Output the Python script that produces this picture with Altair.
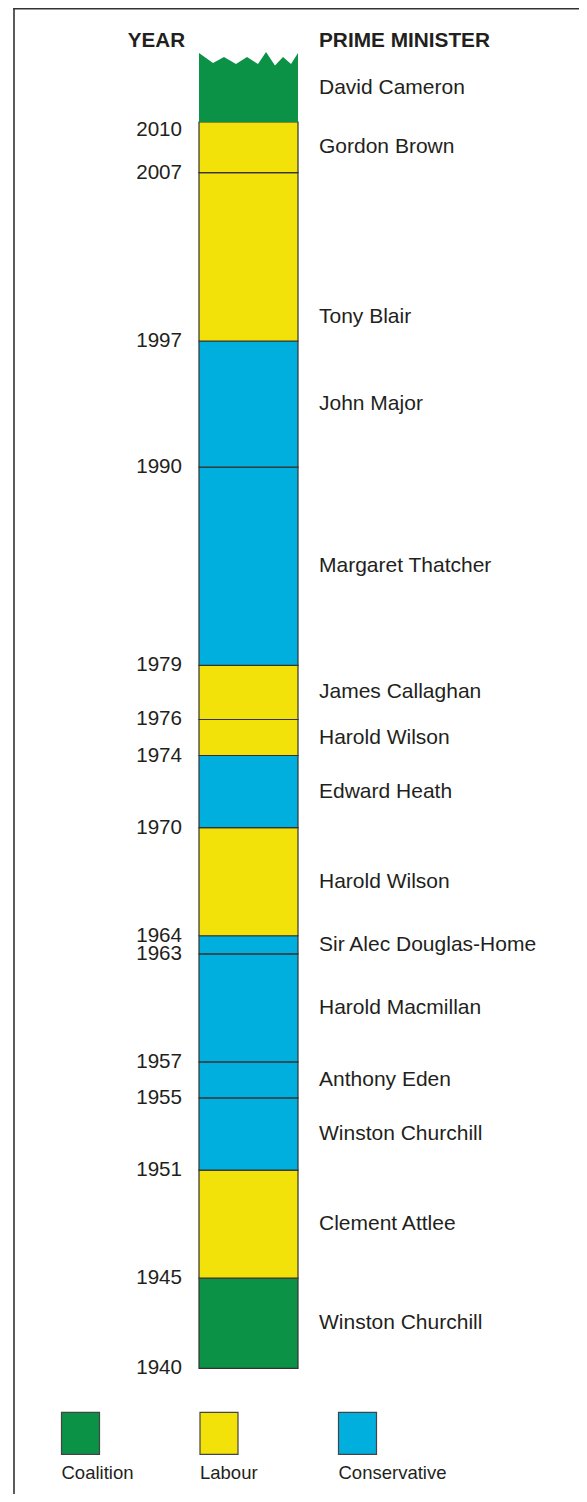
import altair as alt
import pandas as pd

# ---- data ----
prime_ministers = ["Winston Churchill", "Clement Attlee", "Winston Churchill", "Anthony Eden",
                   "Harold Macmillan", "Sir Alec Douglas-Home", "Harold Wilson", "Edward Heath",
                   "Harold Wilson", "James Callaghan", "Margaret Thatcher", "John Major",
                   "Tony Blair", "Gordon Brown", "David Cameron"]
start_years = [1940, 1945, 1951, 1955, 1957, 1963, 1964, 1970, 1974, 1976, 1979, 1990, 1997, 2007, 2010]
end_years = [1945, 1951, 1955, 1957, 1963, 1964, 1970, 1974, 1976, 1979, 1990, 1997, 2007, 2010, 2013]
parties = ["Coalition", "Labour", "Conservative", "Conservative", "Conservative", "Conservative",
           "Labour", "Conservative", "Labour", "Labour", "Conservative", "Conservative",
           "Labour", "Labour", "Coalition"]
year_ticks = [1940, 1945, 1951, 1955, 1957, 1963, 1964, 1970, 1974, 1976, 1979, 1990, 1997, 2007, 2010]
legend_parties = ["Coalition", "Labour", "Conservative"]
party_colors = ["#0b9247", "#f3e10a", "#00afdd"]

terms = pd.DataFrame({"pm": prime_ministers, "start": start_years, "end": end_years, "party": parties})
ticks = pd.DataFrame({"year": year_ticks})
legend_df = pd.DataFrame({"party": legend_parties})

W, H = 571, 1486
FONT = "Liberation Sans"
TEXT = "#231f20"

yscale = alt.Scale(domain=[1940, 1997, 2010, 2013], range=[1360.3, 333, 114, 58], zero=False, nice=False)


def party_fill():
    return alt.Fill("party:N", scale=alt.Scale(domain=legend_parties, range=party_colors), legend=None)


BAR_X, BAR_X2 = 191, 290

base_terms = alt.Chart(terms)

bars = base_terms.transform_filter("datum.end <= 2010").mark_rect(stroke="#333333", strokeWidth=1.2).encode(
    x=alt.value(BAR_X), x2=alt.value(BAR_X2),
    y=alt.Y("start:Q", scale=yscale, axis=None), y2="end:Q",
    fill=party_fill(),
)

top_block = base_terms.transform_filter("datum.end > 2010").mark_rect(strokeWidth=0).encode(
    x=alt.value(BAR_X), x2=alt.value(BAR_X2),
    y=alt.Y("start:Q", scale=yscale, axis=None), y2="end:Q",
    fill=party_fill(),
)

zigzag_path = ("M-1,0.04 L-1,-0.263 L-0.717,-0.061 L-0.495,-0.182 L-0.253,-0.040 L-0.030,-0.182 "
               "L0.192,-0.040 L0.354,-0.283 L0.535,-0.010 L0.697,-0.182 L0.859,-0.040 L1,-0.263 L1,0.04 Z")
zigzag = base_terms.transform_filter("datum.end > 2010").mark_point(
    shape=zigzag_path, filled=True, size=99 * 99, opacity=1, strokeWidth=0
).encode(
    x=alt.value((BAR_X + BAR_X2) / 2),
    y=alt.Y("end:Q", scale=yscale, axis=None),
    fill=party_fill(),
)

names = base_terms.transform_calculate(
    label_y="datum.pm == 'Tony Blair' ? datum.start + 1.4 : "
            "(datum.pm == 'David Cameron' ? datum.start + 1.8 : (datum.start + datum.end) / 2)"
).mark_text(align="left", baseline="middle", font=FONT, fontSize=21, color=TEXT).encode(
    x=alt.value(311),
    y=alt.Y("label_y:Q", scale=yscale, axis=None),
    text="pm:N",
)

year_labels = alt.Chart(ticks).transform_filter("datum.year != 2010").mark_text(
    align="right", baseline="middle", font=FONT, fontSize=20.6, color=TEXT
).encode(
    x=alt.value(174),
    y=alt.Y("year:Q", scale=yscale, axis=None),
    text="year:N",
)
year_top = alt.Chart(ticks).transform_filter("datum.year == 2010").mark_text(
    align="right", baseline="middle", font=FONT, fontSize=20.6, color=TEXT, dy=8
).encode(
    x=alt.value(174),
    y=alt.Y("year:Q", scale=yscale, axis=None),
    text="year:N",
)

headers_df = pd.DataFrame({"t": ["YEAR", "PRIME MINISTER"]})
hdr_year = alt.Chart(headers_df).transform_filter("datum.t == 'YEAR'").mark_text(
    align="right", baseline="middle", font=FONT, fontSize=20.6, fontWeight="bold", color=TEXT
).encode(x=alt.value(177), y=alt.value(33), text="t:N")
hdr_pm = alt.Chart(headers_df).transform_filter("datum.t == 'PRIME MINISTER'").mark_text(
    align="left", baseline="middle", font=FONT, fontSize=20.8, fontWeight="bold", color=TEXT
).encode(x=alt.value(311), y=alt.value(33), text="t:N")

lx = alt.X("party:N", scale=alt.Scale(domain=legend_parties, range=[72.5, 349.5], type="point", padding=0), axis=None)
legend_sq = alt.Chart(legend_df).mark_point(
    shape="M-0.905,-1 L0.905,-1 L0.905,1 L-0.905,1 Z", filled=True, size=42 * 42, opacity=1,
    stroke="#444444", strokeWidth=1.2
).encode(
    x=lx, y=alt.value(1425.4),
    fill=party_fill(),
)
legend_txt = alt.Chart(legend_df).mark_text(
    align="left", baseline="middle", font=FONT, fontSize=18.5, color=TEXT, dx=-19
).encode(x=lx, y=alt.value(1464.7), text="party:N")

# frame: only its left and top edges fall inside the picture
frame_left = alt.Chart(headers_df).transform_filter("datum.t == 'YEAR'").mark_rule(
    color="#333333", strokeWidth=1.6
).encode(x=alt.value(6), y=alt.value(0), y2=alt.value(H))
frame_top = alt.Chart(headers_df).transform_filter("datum.t == 'YEAR'").mark_rule(
    color="#333333", strokeWidth=1.6
).encode(x=alt.value(5.2), x2=alt.value(W), y=alt.value(0.8))

chart = alt.layer(
    frame_left, frame_top, bars, top_block, zigzag, names, year_labels, year_top,
    hdr_year, hdr_pm, legend_sq, legend_txt
).properties(
    width=W, height=H, autosize=alt.AutoSizeParams(type="none"), padding=0, background="white"
).configure_view(strokeWidth=0, stroke="transparent")

chart.save("out.html", embed_options={"renderer": "svg", "actions": False})
